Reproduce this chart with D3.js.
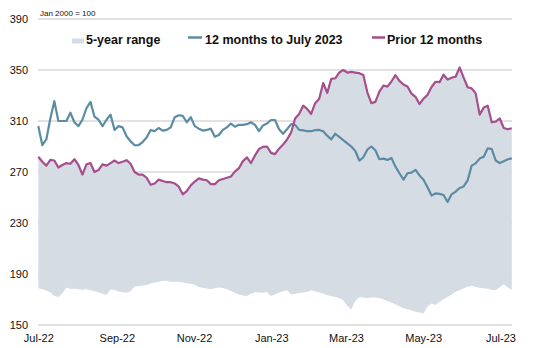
<!DOCTYPE html>
<html>
<head>
<meta charset="utf-8">
<script src="https://cdn.jsdelivr.net/npm/d3@7"></script>
<style>
  html, body { margin: 0; padding: 0; background: #fff; }
  svg { display: block; font-family: "Liberation Sans", Arial, sans-serif; }
</style>
</head>
<body>
<svg id="chart" width="533" height="348"></svg>
<script>
// ---- Data ----
const startDate = new Date(2022, 6, 1);
const endDate = new Date(2023, 6, 10);

const current = [306,291,295.5,312,325.5,310,310,310,316.5,309,306,311,320,325,313.4,311,306,311,315,303,
  306,305,298,294,291,291,293.5,297,303,302,304.5,302.5,303,305,313,314.5,314,309,313,306,
  304,302.5,303,304,297.7,299,303,305,308,305.5,307,307,307.5,309,307,302,306.5,308,310.8,310.8,
  303.5,300,303.5,307.5,307,303,302.7,302,302,302.8,303,302,298.5,295.5,300,297.5,295,292.5,290,286.5,
  279,281.5,287.5,290,287,280,280.5,279.5,281,274.2,269,264,269,269.5,271.6,267.3,264,258,251.5,253.3,
  252.8,252,246.5,252.5,254.6,257.5,258.7,263.5,275,276.8,280.5,282,288.6,288,279,277,278.5,280,280.7];

const prior = [282,278,275,279.5,279,273.5,275.5,277,276.5,280,275.5,268,276,277,270,271.5,276,275,277,279,
  277,278,279.3,276.5,270,268,268,265.5,260,261,264,263,262,262,261,258.5,252.5,255,259.5,262.5,
  265,264,263.5,260.5,260.5,263.5,264.5,265.5,266.5,270.3,273,278.5,281.5,277,283,288,289.7,290,285,284,
  288.3,291.5,295.5,301,312,315.5,322,319.5,315.5,324,327.5,339.8,332,343,343.5,348,350,348,348.5,348,
  347.5,346,332.5,324,325,333,337.8,337,341,346,341.5,338.6,337,331.5,329,323.3,327.5,330.5,336.7,340.8,
  340.5,346.3,342.5,344,344.7,352,344,336.5,335.6,331.7,315,320.5,322,309,309.5,312,304.5,303.5,304.3];

// 5-year range: upper bound coincides with the prior-12-month series in this window
const rangeHigh = prior.slice();
const rangeLow = [178.8,178,177,175.5,172.7,172,175,179.5,178.2,178.5,178,177.6,178,177.2,176.4,175.5,174.5,173.5,178,177.5,
  176.3,175.6,175.3,176.5,180.2,180.5,181,181.4,182.5,183.4,184,184.8,184.8,184,184,184,183.4,182.7,182.4,181.5,
  179.8,179.2,178.6,178.1,178.8,179.5,179,178,176.7,175.3,173.9,173.2,172.8,174.6,175.6,175.5,175.2,175.8,172.8,174,
  175.4,176.4,177.3,174,174.5,175.1,175.5,176.1,177.3,176.5,175.5,174.5,173.4,172.6,171.9,171.2,169.4,165,162.2,169,
  171.8,171.6,171,171.5,171.5,171.1,170,168.9,167.7,166.3,164.7,163.1,162.3,161.5,160.4,159.8,159,164.6,166.8,165.7,
  168.3,170.2,172,174,176,177.2,178.8,180,180.5,180,179,178.8,178.5,177.4,177.4,179.6,182,179.4,177.5];

const yTicks = [150, 190, 230, 270, 310, 350, 390];
const xTickDates = [new Date(2022,6,1), new Date(2022,8,1), new Date(2022,10,1), new Date(2023,0,1),
  new Date(2023,2,1), new Date(2023,4,1), new Date(2023,6,1)];
const legendLabels = ["5-year range", "12 months to July 2023", "Prior 12 months"];
const unitNote = "Jan 2000 = 100";

// ---- Styles ----
const areaColor = "#d6dce4";
const blueColor = "#5b8ca3";
const purpleColor = "#a54f8e";
const gridColor = "#d9d9d9";

const svg = d3.select("#chart");
const plotLeft = 38, plotRight = 512, plotTop = 19, plotBottom = 325;

const x = d3.scaleTime()
  .domain([new Date(2022,6,1), new Date(2023,6,1)])
  .range([38.3, 500.4]);
const y = d3.scaleLinear().domain([150, 390]).range([plotBottom, plotTop]);
const N = current.length;
const xi = d3.scaleLinear().domain([0, N - 1]).range([x(startDate), x(endDate)]);

// gridlines
svg.append("g").selectAll("line").data(yTicks).join("line")
  .attr("x1", plotLeft).attr("x2", plotRight)
  .attr("y1", d => y(d)).attr("y2", d => y(d))
  .attr("stroke", gridColor).attr("stroke-width", 1.5);

// area
const area = d3.area()
  .x((d, i) => xi(i))
  .y0((d, i) => y(rangeLow[i]))
  .y1((d, i) => y(rangeHigh[i]));
svg.append("path").datum(rangeHigh).attr("d", area).attr("fill", areaColor);

// lines
const line = d3.line().x((d, i) => xi(i)).y(d => y(d));
svg.append("path").datum(current).attr("d", line)
  .attr("fill", "none").attr("stroke", blueColor).attr("stroke-width", 2.2).attr("stroke-linejoin", "round");
svg.append("path").datum(prior).attr("d", line)
  .attr("fill", "none").attr("stroke", purpleColor).attr("stroke-width", 2.2).attr("stroke-linejoin", "round");

// y axis
const yAxis = svg.append("g").attr("transform", `translate(${plotLeft},0)`)
  .call(d3.axisLeft(y).tickValues(yTicks).tickSize(0).tickPadding(10).tickFormat(d3.format("d")));
yAxis.select(".domain").remove();
yAxis.selectAll("text").attr("font-size", 11).attr("fill", "#111")
  .attr("font-family", "Liberation Sans, Arial, sans-serif");

// x axis
const xAxis = svg.append("g").attr("transform", `translate(0,${plotBottom})`)
  .call(d3.axisBottom(x).tickValues(xTickDates).tickSize(0).tickPadding(9).tickFormat(d3.timeFormat("%b-%y")));
xAxis.select(".domain").remove();
xAxis.selectAll("text").attr("font-size", 11).attr("fill", "#111")
  .attr("font-family", "Liberation Sans, Arial, sans-serif");

// unit note
svg.append("text").attr("x", 40).attr("y", 16).attr("font-size", 8).attr("fill", "#111")
  .text(unitNote);

// legend
const lg = svg.append("g").attr("font-size", 12.5).attr("font-weight", "bold").attr("fill", "#111");
lg.append("rect").attr("x", 72).attr("y", 38.5).attr("width", 12).attr("height", 5).attr("fill", areaColor);
lg.append("text").attr("x", 86).attr("y", 43.5).text(legendLabels[0]);
lg.append("line").attr("x1", 188).attr("x2", 202).attr("y1", 37.5).attr("y2", 37.5)
  .attr("stroke", blueColor).attr("stroke-width", 2.5);
lg.append("text").attr("x", 205).attr("y", 43.5).text(legendLabels[1]);
lg.append("line").attr("x1", 372).attr("x2", 385).attr("y1", 37.5).attr("y2", 37.5)
  .attr("stroke", purpleColor).attr("stroke-width", 2.5);
lg.append("text").attr("x", 387).attr("y", 43.5).text(legendLabels[2]);
</script>
</body>
</html>
